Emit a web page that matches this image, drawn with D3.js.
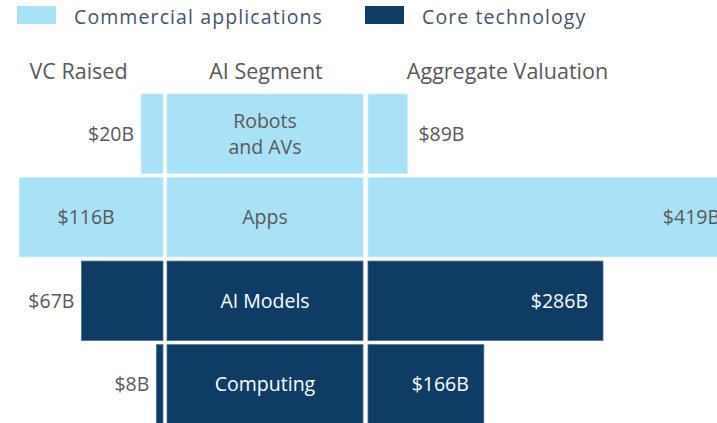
<!DOCTYPE html>
<html>
<head>
<meta charset="utf-8">
<script src="https://cdn.jsdelivr.net/npm/d3@7"></script>
<style>
  html, body { margin: 0; padding: 0; background: #ffffff; }
  svg { display: block; font-family: "Open Sans", "Noto Sans", sans-serif; }
</style>
</head>
<body>
<svg id="chart" width="717" height="423"></svg>
<script>
// ---- Data ----
const segments = ["Robots and AVs", "Apps", "AI Models", "Computing"];
const segmentLines = [["Robots", "and AVs"], ["Apps"], ["AI Models"], ["Computing"]];
const groups = ["Commercial applications", "Commercial applications", "Core technology", "Core technology"];
const vcRaised = [20, 116, 67, 8];
const valuation = [89, 419, 286, 166];
const legendItems = ["Commercial applications", "Core technology"];
const headers = ["VC Raised", "AI Segment", "Aggregate Valuation"];

// ---- Styles ----
const colors = { "Commercial applications": "#a9e1f7", "Core technology": "#0e3c64" };
const strokeCols = { "Commercial applications": "#c9ecfa", "Core technology": "#4f6e8c" };
const textOn = { "Commercial applications": "#595959", "Core technology": "#ffffff" };
const grayText = "#595959";
const legendText = "#44546a";
const FS = 19.5;

const svg = d3.select("#chart");

// Scales
const y = d3.scaleBand().domain(segments).range([94, 424]).paddingInner(0.05);
const xL = d3.scaleLinear().domain([0, 120]).range([166.5, 14.1]);
const xR = d3.scaleLinear().domain([0, 400]).range([319, 716.2]);
const midLeft = 167, midRight = 363;
const leftEnd = 163, rightStart = 368;

const rows = segments.map((s, i) => ({ seg: s, lines: segmentLines[i], group: groups[i], vc: vcRaised[i], val: valuation[i] }));

// Legend
const lg = svg.append("g");
const legendX = [17, 365];
legendItems.forEach((name, i) => {
  lg.append("rect").attr("x", legendX[i]).attr("y", 6).attr("width", 39).attr("height", 18)
    .attr("fill", colors[name]);
  lg.append("text").attr("x", legendX[i] + 57).attr("y", 23.5)
    .attr("font-size", 19.5).attr("letter-spacing", 1.1).attr("fill", legendText).text(name);
});

// Headers
const headerX = [78.5, 266, 507.5];
headers.forEach((h, i) => {
  svg.append("text").attr("x", headerX[i]).attr("y", 78.5).attr("text-anchor", "middle")
    .attr("font-size", 21.5).attr("fill", grayText).text(h);
});

// Clip for chart area
svg.append("clipPath").attr("id", "clip").append("rect").attr("x", 0).attr("y", 0).attr("width", 717).attr("height", 423);
const g = svg.append("g").attr("clip-path", "url(#clip)");

// Left bars (VC Raised)
g.selectAll("rect.left").data(rows).join("rect").attr("class", "left")
  .attr("x", d => xL(d.vc)).attr("y", d => y(d.seg))
  .attr("width", d => leftEnd - xL(d.vc)).attr("height", y.bandwidth())
  .attr("fill", d => colors[d.group]).attr("stroke", d => strokeCols[d.group]).attr("stroke-width", 0.8);

// Middle cells
g.selectAll("rect.mid").data(rows).join("rect").attr("class", "mid")
  .attr("x", midLeft).attr("y", d => y(d.seg))
  .attr("width", midRight - midLeft).attr("height", y.bandwidth())
  .attr("fill", d => colors[d.group]).attr("stroke", d => strokeCols[d.group]).attr("stroke-width", 0.8);

// Right bars (Valuation)
g.selectAll("rect.right").data(rows).join("rect").attr("class", "right")
  .attr("x", rightStart).attr("y", d => y(d.seg))
  .attr("width", d => xR(d.val) - rightStart).attr("height", y.bandwidth())
  .attr("fill", d => colors[d.group]).attr("stroke", d => strokeCols[d.group]).attr("stroke-width", 0.8);

// Middle labels
rows.forEach(d => {
  const cy = y(d.seg) + y.bandwidth() / 2;
  const n = d.lines.length;
  d.lines.forEach((ln, k) => {
    g.append("text").attr("x", (midLeft + midRight) / 2).attr("y", cy + (k - (n - 1) / 2) * 26)
      .attr("dy", "0.35em").attr("text-anchor", "middle").attr("font-size", FS)
      .attr("fill", textOn[d.group]).text(ln);
  });
});

// Left value labels
rows.forEach(d => {
  const cy = y(d.seg) + y.bandwidth() / 2;
  const t = g.append("text").attr("y", cy).attr("dy", "0.35em").attr("font-size", FS).text("$" + d.vc + "B");
  const w = t.node().getComputedTextLength();
  const x0 = xL(d.vc);
  if (x0 - 8 - w >= 0) {
    t.attr("x", x0 - 7).attr("text-anchor", "end").attr("fill", grayText);
  } else {
    t.attr("x", (x0 + leftEnd) / 2 - 5).attr("text-anchor", "middle").attr("fill", textOn[d.group]);
  }
});

// Right value labels
rows.forEach(d => {
  const cy = y(d.seg) + y.bandwidth() / 2;
  const t = g.append("text").attr("y", cy).attr("dy", "0.35em").attr("font-size", FS).text("$" + d.val + "B");
  const w = t.node().getComputedTextLength();
  const x1 = xR(d.val);
  if (x1 - rightStart > w + 30) {
    t.attr("x", x1 - 15).attr("text-anchor", "end").attr("fill", textOn[d.group]);
  } else {
    t.attr("x", x1 + 11).attr("text-anchor", "start").attr("fill", grayText);
  }
});
</script>
</body>
</html>
